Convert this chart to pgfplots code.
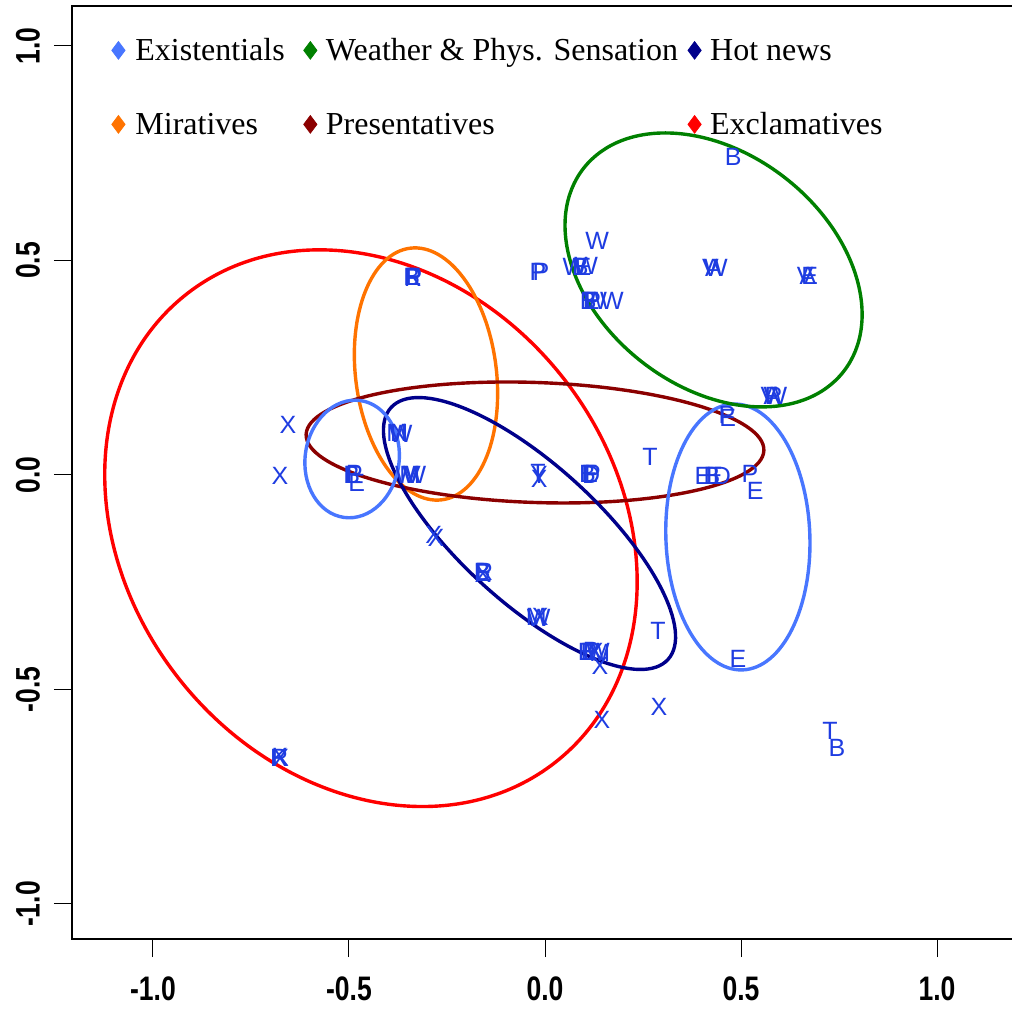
\documentclass[border=0pt]{standalone}
\usepackage{pgfplots}
\pgfplotsset{compat=1.18}
\usepackage{fontspec}
\setmainfont{Liberation Serif}
\newfontfamily\lettfont{Liberation Sans}
\newfontfamily\tickfont[FakeStretch=0.78]{Liberation Sans}
\definecolor{cexist}{RGB}{72,118,255}
\definecolor{cweather}{RGB}{0,128,0}
\definecolor{chot}{RGB}{0,0,139}
\definecolor{cmir}{RGB}{255,115,0}
\definecolor{cpres}{RGB}{139,0,0}
\definecolor{cexcl}{RGB}{255,0,0}
\definecolor{letblue}{RGB}{30,60,225}
\pgfplotstableread{
x y lab
-0.656 0.117 X
-0.676 -0.002 X
-0.493 0.000 B
-0.490 0.000 E
-0.486 0.002 P
-0.480 -0.018 E
-0.378 0.098 M
-0.372 0.098 N
-0.368 0.096 W
-0.352 0.000 W
-0.345 0.000 M
-0.338 0.000 V
-0.333 0.000 W
-0.340 0.462 B
-0.337 0.462 E
-0.334 0.462 P
-0.337 0.460 R
-0.284 -0.140 X
-0.278 -0.147 X
-0.160 -0.226 B
-0.157 -0.228 E
-0.155 -0.226 R
-0.158 -0.230 X
-0.022 -0.331 M
-0.012 -0.331 X
-0.016 -0.333 W
0.105 -0.413 B
0.112 -0.413 E
0.118 -0.411 P
0.128 -0.413 X
0.135 -0.413 W
0.140 -0.415 M
0.140 -0.445 X
0.145 -0.571 X
0.291 -0.541 X
0.288 -0.364 T
-0.015 -0.010 X
-0.015 0.000 Y
-0.018 0.005 T
0.108 0.002 B
0.114 0.002 E
0.118 0.000 D
0.121 0.002 P
0.268 0.042 T
-0.018 0.473 P
-0.010 0.473 P
0.075 0.485 W
0.090 0.485 B
0.097 0.485 E
0.105 0.487 W
0.133 0.545 W
0.110 0.406 B
0.118 0.406 E
0.122 0.406 P
0.128 0.406 W
0.171 0.406 W
0.422 0.483 V
0.430 0.483 A
0.436 0.483 W
0.664 0.464 V
0.671 0.464 A
0.675 0.464 E
0.571 0.184 V
0.579 0.184 A
0.583 0.184 R
0.588 0.184 W
0.464 0.140 P
0.466 0.132 E
0.403 -0.002 E
0.426 -0.002 B
0.432 -0.002 E
0.451 -0.002 D
0.523 0.002 P
0.536 -0.037 E
0.492 -0.429 E
0.727 -0.597 T
0.745 -0.636 B
0.480 0.741 B
-0.678 -0.660 R
-0.674 -0.660 X
-0.676 -0.658 K
}\letters
\begin{document}
\begin{tikzpicture}
\begin{axis}[
  at={(0pt,0pt)}, anchor=south west,
  scale only axis, width=473pt, height=466.5pt,
  xmin=-1.2066, xmax=1.2066, ymin=-1.0816, ymax=1.0932,
  xtick={-1,-0.5,0,0.5,1}, ytick={-1,-0.5,0,0.5,1},
  tick pos=left, tick align=outside, major tick length=9pt,
  major tick style={black, line width=0.5pt},
  axis line style={line width=1pt},
  clip=false,
  /pgf/number format/.cd, fixed, fixed zerofill, precision=1, assume math mode=true,
  /pgfplots/.cd,
  ticklabel style={font=\tickfont\bfseries\fontsize{17}{17}\selectfont},
  xticklabel style={anchor=north},
  yticklabel style={rotate=90, anchor=south},
  xticklabel shift=6.5pt,
  yticklabel shift=3.5pt,
  legend columns=3,
  legend image code/.code={\draw[#1] plot coordinates {(0pt,5pt)};},
  legend style={at={(axis cs:-1.106,1.021)}, anchor=north west, draw=none, fill=none,
    inner sep=0pt, row sep=22pt,
    nodes={inner sep=0pt, anchor=base west, text height=11.5pt, text depth=3.5pt},
    font=\fontsize{16}{19}\selectfont,
    /tikz/column 1/.style={column sep=5.2pt},
    /tikz/column 2/.style={column sep=9.5pt},
    /tikz/column 3/.style={column sep=4.5pt},
    /tikz/column 4/.style={column sep=5pt},
    /tikz/column 5/.style={column sep=4.5pt}},
]
\addlegendimage{only marks, mark=diamond*, mark size=4.4pt, color=cexist}
\addlegendentry{Existentials}
\addlegendimage{only marks, mark=diamond*, mark size=4.4pt, color=cweather}
\addlegendentry{Weather \& Phys. Sensation}
\addlegendimage{only marks, mark=diamond*, mark size=4.4pt, color=chot}
\addlegendentry{Hot news}
\addlegendimage{only marks, mark=diamond*, mark size=4.4pt, color=cmir}
\addlegendentry{Miratives}
\addlegendimage{only marks, mark=diamond*, mark size=4.4pt, color=cpres}
\addlegendentry{Presentatives}
\addlegendimage{only marks, mark=diamond*, mark size=4.4pt, color=cexcl}
\addlegendentry{Exclamatives}

% ellipses (centre in axis units, semi-axes in pt, rotation in degrees on the page)
\draw[cexcl, line width=1.7pt, rotate around={-51.5:(axis cs:-0.444,-0.124)}] (axis cs:-0.444,-0.124) ellipse [x radius=149pt, y radius=122pt];
\draw[cmir, line width=1.7pt, rotate around={97.2:(axis cs:-0.3036,0.2354)}] (axis cs:-0.3036,0.2354) ellipse [x radius=63.4pt, y radius=35.2pt];
\draw[cpres, line width=1.7pt, rotate around={-2:(axis cs:-0.0255,0.0758)}] (axis cs:-0.0255,0.0758) ellipse [x radius=114.5pt, y radius=30pt];
\draw[chot, line width=1.7pt, rotate around={-42.3:(axis cs:-0.0395,-0.1364)}] (axis cs:-0.0395,-0.1364) ellipse [x radius=93.6pt, y radius=34.5pt];
\draw[cexist, line width=1.7pt, rotate around={82:(axis cs:-0.492,0.0373)}] (axis cs:-0.492,0.0373) ellipse [x radius=29.5pt, y radius=23.5pt];
\draw[cexist, line width=1.7pt, rotate around={92:(axis cs:0.492,-0.1445)}] (axis cs:0.492,-0.1445) ellipse [x radius=66.5pt, y radius=36pt];
\draw[cweather, line width=1.7pt, rotate around={-38:(axis cs:0.430,0.478)}] (axis cs:0.430,0.478) ellipse [x radius=82.5pt, y radius=58.3pt];

\addplot[only marks, mark=none, forget plot, nodes near coords, point meta=explicit symbolic,
  nodes near coords style={anchor=center, inner sep=0pt, text=letblue,
    font=\lettfont\fontsize{12.5}{14}\selectfont}]
  table[x=x, y=y, meta=lab] {\letters};
\end{axis}
\pgfresetboundingbox
\path[use as bounding box] (-36pt,-34.5pt) rectangle (470pt,469.5pt);
\end{tikzpicture}
\end{document}
